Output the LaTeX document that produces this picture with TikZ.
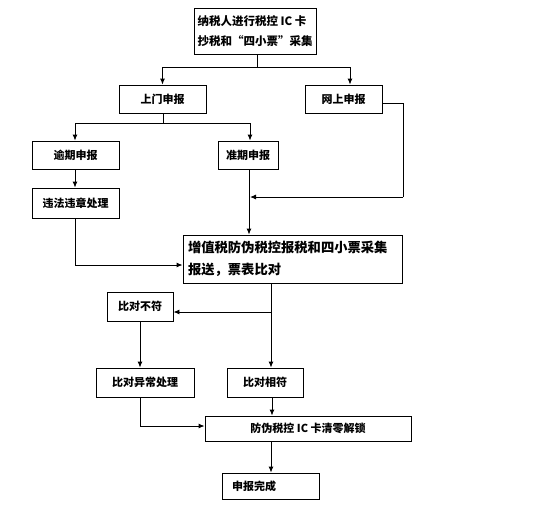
\documentclass[tikz,border=0pt]{standalone}
\usepackage{fontspec}
\setmainfont{Noto Sans CJK SC}
\usetikzlibrary{arrows.meta}
\begin{document}
\begin{tikzpicture}[x=1pt,y=-1pt,
  box/.style={draw=black,line width=0.9pt,inner sep=0pt,font=\fontsize{11}{13}\selectfont\bfseries},
  arr/.style={draw=black,line width=0.9pt,-{Latex[length=6pt,width=5pt]}},
  ln/.style={draw=black,line width=0.9pt}]
\useasboundingbox[fill=white] (0,0) rectangle (536,507);
% boxes: centre and size from corners
\node[box,minimum width=122pt,minimum height=46pt,align=left,font=\fontsize{11.5}{20}\selectfont\bfseries] (b1) at (255,31) {纳税人进行税控 IC 卡\\抄税和“四小票”采集};
\node[box,minimum width=87pt,minimum height=28pt] (smen) at (162.5,99) {上门申报};
\node[box,minimum width=77pt,minimum height=28pt] (wang) at (343.5,99) {网上申报};
\node[box,minimum width=87pt,minimum height=28pt] (yuqi) at (75.5,155) {逾期申报};
\node[box,minimum width=60pt,minimum height=28pt] (zhun) at (248,155) {准期申报};
\node[box,minimum width=87pt,minimum height=30pt] (weifa) at (75.5,203) {违法违章处理};
\node[box,minimum width=219pt,minimum height=48pt,align=left,text width=209pt,inner xsep=5pt,font=\fontsize{13.3}{22}\selectfont\bfseries] (big) at (292.5,259) {增值税防伪税控报税和四小票采集\\报送，票表比对};
\node[box,minimum width=66pt,minimum height=29pt] (buf) at (140,306.5) {比对不符};
\node[box,minimum width=98pt,minimum height=29pt] (yich) at (145,382.5) {比对异常处理};
\node[box,minimum width=76pt,minimum height=29pt] (xiang) at (265,382.5) {比对相符};
\node[box,minimum width=206pt,minimum height=25pt] (fang) at (308,428.5) {防伪税控 IC 卡清零解锁};
\node[box,minimum width=87pt,minimum height=26pt,text width=77pt,align=left,inner xsep=10pt] (wan) at (270.5,486) {申报完成};
% junctions
\coordinate (j1) at (257,67);
\coordinate (j2) at (163,123);
\coordinate (w1) at (403,103);
\coordinate (w2) at (403,197);
\coordinate (w3) at (250,197);
\coordinate (f1) at (75,265);
\coordinate (c1) at (271,312);
\coordinate (e1) at (140,426);
% connectors
\draw[ln] (b1.south -| j1) -- (j1);
\draw[arr] (j1) -| (smen.north);
\draw[arr] (j1) -| ([xshift=6.5pt]wang.north);
\draw[ln] (smen.south -| j2) -- (j2);
\draw[arr] (j2) -| ([xshift=-0.5pt]yuqi.north);
\draw[arr] (j2) -| ([xshift=2pt]zhun.north);
\draw[arr] ([xshift=-0.5pt]yuqi.south) -- ([xshift=-0.5pt]weifa.north);
\draw[ln] (wang.east |- w1) -- (w1) -- (w2);
\draw[arr] (w2) -- (w3);
\draw[arr] ([xshift=1pt]zhun.south) -- (big.north -| 249,0);
\draw[ln] ([xshift=-0.5pt]weifa.south) -- (f1);
\draw[arr] (f1) -- (big.west |- f1);
\draw[arr] (big.south -| c1) -- (xiang.north -| c1);
\draw[arr] (c1) -- (buf.east |- c1);
\draw[arr] (buf.south) -- (yich.north -| buf.south);
\draw[ln] (yich.south -| e1) -- (e1);
\draw[arr] (e1) -- (fang.west |- e1);
\draw[arr] (xiang.south -| 272,0) -- (fang.north -| 272,0);
\draw[arr] (fang.south -| 271,0) -- (wan.north -| 271,0);
\end{tikzpicture}
\end{document}
